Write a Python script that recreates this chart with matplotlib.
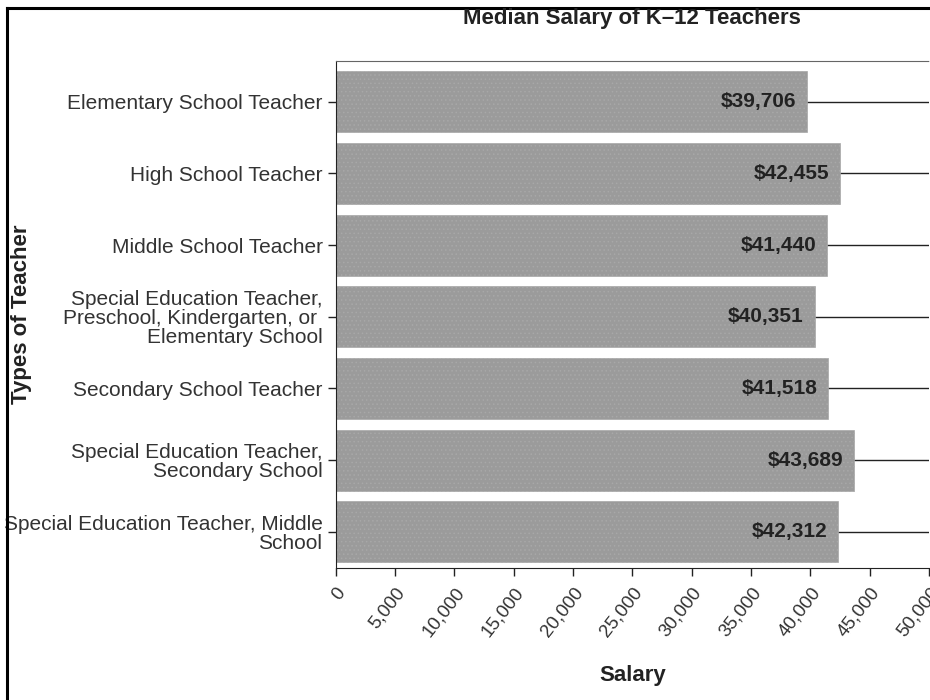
import matplotlib
matplotlib.use("Agg")
import matplotlib.pyplot as plt
from matplotlib.lines import Line2D

plt.rcParams["font.family"] = ["Liberation Sans", "DejaVu Sans"]
plt.rcParams["hatch.color"] = "#7f7f7f"
plt.rcParams["hatch.linewidth"] = 0.6

categories = ["Elementary School Teacher",
              "High School Teacher",
              "Middle School Teacher",
              "Special Education Teacher,\nPreschool, Kindergarten, or \nElementary School",
              "Secondary School Teacher",
              "Special Education Teacher,\nSecondary School",
              "Special Education Teacher, Middle\nSchool"]
salaries = [39706, 42455, 41440, 40351, 41518, 43689, 42312]
xticks = list(range(0, 50001, 5000))
xtick_labels = [f"{v:,}" for v in xticks]

fig = plt.figure(figsize=(9.3, 7.0), dpi=100)
ax = fig.add_axes([0.361, 0.189, 0.638, 0.724])

ypos = list(range(len(categories)))
ax.set_axisbelow(True)
ax.yaxis.grid(True, color="#222222", lw=1.0)
bars = ax.barh(ypos, salaries, height=0.85, color="#9b9b9b", edgecolor="#a8a8a8",
               hatch="....", lw=0.5, zorder=2)
for b, v in zip(bars, salaries):
    ax.text(b.get_width() - 900, b.get_y() + b.get_height() / 2, f"${v:,}",
            ha="right", va="center", fontsize=15, fontweight="bold", color="#222222", zorder=3)

ax.set_xlim(0, 50000)
ax.set_ylim(6.5, -0.57)
ax.set_yticks(ypos)
ax.set_yticklabels(categories, fontsize=15, color="#333333", linespacing=1.0)
ax.set_xticks(xticks)
ax.set_xticklabels(xtick_labels, fontsize=13.5, color="#333333", rotation=52,
                   ha="right", va="top", rotation_mode="anchor")
ax.tick_params(axis="both", length=6, width=1, color="#222222")
ax.tick_params(axis="x", pad=6)

ax.spines["right"].set_visible(False)
ax.spines["top"].set_color("#666666")
ax.spines["top"].set_linestyle((0, (1, 1)))
ax.spines["left"].set_color("#222222")
ax.spines["bottom"].set_color("#222222")

ax.set_xlabel("Salary", fontsize=16, fontweight="bold", color="#222222", labelpad=18)
ax.set_ylabel("Types of Teacher", fontsize=16, fontweight="bold", color="#222222")
ax.yaxis.set_label_coords(-0.512, 0.5, transform=ax.transAxes)
fig.text(0.68, 0.973, "Median Salary of K\u201312 Teachers", ha="center", va="center",
         fontsize=16, fontweight="bold", color="#222222")

# outer frame (left and top edges)
fig.add_artist(Line2D([0.007, 0.007], [0.0, 0.988], transform=fig.transFigure, color="black", lw=2.2))
fig.add_artist(Line2D([0.007, 1.0], [0.988, 0.988], transform=fig.transFigure, color="black", lw=2.2))

fig.savefig("out.png", dpi=100)
